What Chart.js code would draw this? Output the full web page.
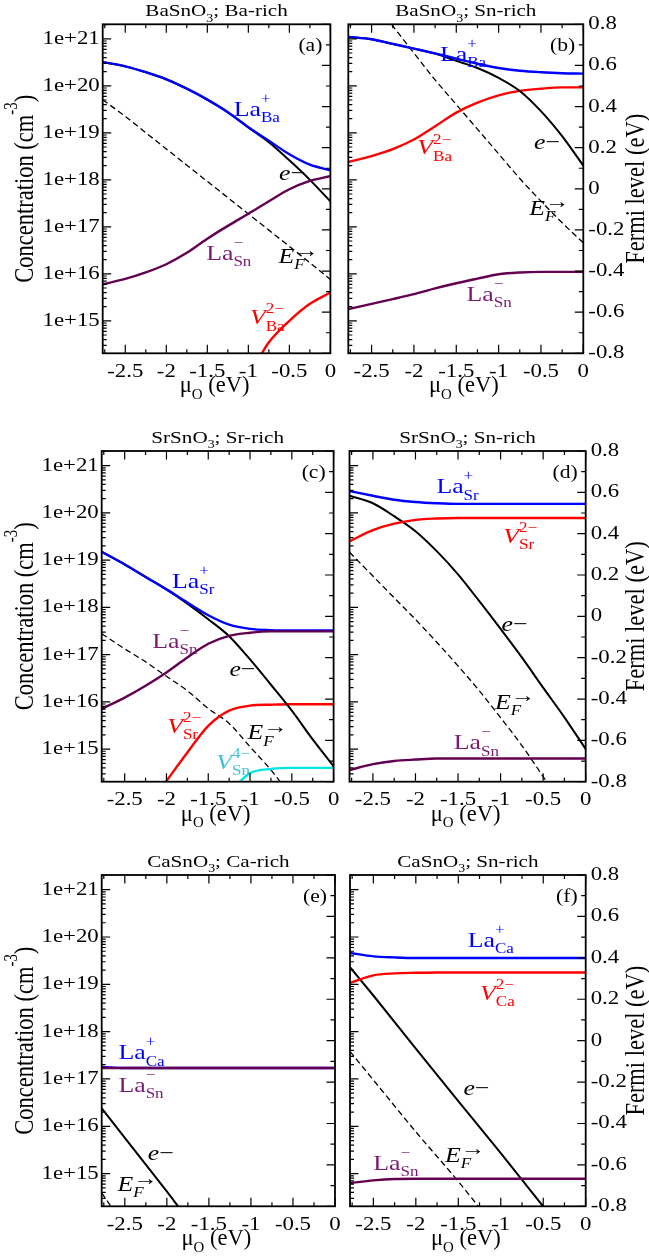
<!DOCTYPE html>
<html><head><meta charset="utf-8">
<script src="https://cdn.jsdelivr.net/npm/chart.js@4.4.1/dist/chart.umd.min.js"></script>
<style>
html,body{margin:0;padding:0;background:#fff;width:649px;height:1259px;overflow:hidden;position:relative}
canvas{position:absolute}
</style></head><body>
<script>
// ---------------- axis ranges & tick labels ----------------
const XMIN = -2.775, XMAX = 0;
const YMIN = 2.04e14, YMAX = 2.04e21;
const FMIN = -0.8, FMAX = 0.8;
const X_TICKS = [-2.5, -2, -1.5, -1, -0.5, 0];
const Y_TICKS = [1e15, 1e16, 1e17, 1e18, 1e19, 1e20, 1e21];
const F_TICKS = [-0.8, -0.6, -0.4, -0.2, 0, 0.2, 0.4, 0.6, 0.8];

// common oxygen chemical potential grid (eV)
const MU = [-2.775, -2.5, -2.25, -2.0, -1.75, -1.5, -1.25, -1.0, -0.75, -0.5, -0.25, 0];

// ---------------- (a) BaSnO3; Ba-rich ----------------
const a_LaBa = [3.2e20, 2.6e20, 1.95e20, 1.38e20, 8.7e19, 5.1e19, 2.75e19, 1.32e19, 6.8e18, 3.5e18, 2.1e18, 1.6e18];
const a_e    = [3.2e20, 2.6e20, 1.95e20, 1.38e20, 8.7e19, 5.1e19, 2.75e19, 1.3e19, 6.3e18, 2.6e18, 1.0e18, 3.5e17];
const a_LaSn = [6.0e15, 7.8e15, 1.07e16, 1.6e16, 2.8e16, 5.6e16, 1.05e17, 1.9e17, 3.5e17, 6.3e17, 9.5e17, 1.2e18];
const a_V_mu = [-0.84, -0.75, -0.5, -0.25, 0];
const a_V    = [2.0e14, 3.5e14, 1.0e15, 2.3e15, 4.0e15];
const a_EF   = [0.433, 0.352, 0.273, 0.194, 0.115, 0.036, -0.043, -0.122, -0.201, -0.28, -0.36, -0.441];

// ---------------- (b) BaSnO3; Sn-rich ----------------
const b_LaBa = [1.1e21, 9.8e20, 7.8e20, 6.2e20, 4.9e20, 3.8e20, 2.95e20, 2.4e20, 2.1e20, 1.95e20, 1.86e20, 1.82e20];
const b_e    = [1.1e21, 9.8e20, 7.8e20, 6.2e20, 4.85e20, 3.4e20, 2.4e20, 1.48e20, 7.8e19, 2.9e19, 8.5e18, 2.0e18];
const b_V    = [2.4e18, 3.2e18, 4.5e18, 7.2e18, 1.38e19, 2.7e19, 4.4e19, 6.3e19, 7.8e19, 8.7e19, 9.3e19, 9.3e19];
const b_LaSn = [1.78e15, 2.3e15, 2.9e15, 3.7e15, 4.9e15, 6.3e15, 7.9e15, 9.8e15, 1.07e16, 1.1e16, 1.1e16, 1.1e16];
const b_EF_mu = [-2.264, -2.0, -1.75, -1.5, -1.25, -1.0, -0.75, -0.5, -0.25, 0];
const b_EF    = [0.8, 0.66, 0.53, 0.41, 0.29, 0.17, 0.05, -0.06, -0.165, -0.263];

// ---------------- (c) SrSnO3; Sr-rich ----------------
const c_LaSr = [1.5e19, 8.1e18, 4.4e18, 2.4e18, 1.26e18, 6.8e17, 4.3e17, 3.5e17, 3.3e17, 3.25e17, 3.25e17, 3.25e17];
const c_e    = [1.5e19, 8.1e18, 4.4e18, 2.4e18, 1.2e18, 5.6e17, 2.45e17, 7.9e16, 2.3e16, 6.5e15, 1.6e15, 4.3e14];
const c_LaSn = [7.1e15, 1.23e16, 2.2e16, 4.2e16, 8.7e16, 1.7e17, 2.5e17, 2.9e17, 3.1e17, 3.1e17, 3.1e17, 3.1e17];
const c_V_mu = [-2.01, -1.75, -1.5, -1.25, -1.0, -0.75, -0.5, -0.25, 0];
const c_V    = [2.0e14, 8.5e14, 3.1e15, 6.5e15, 8.3e15, 8.7e15, 8.9e15, 8.9e15, 8.9e15];
const c_VSn_mu = [-1.13, -1.0, -0.75, -0.5, -0.25, 0];
const c_VSn    = [2.0e14, 3.1e14, 3.8e14, 4.0e14, 4.0e14, 4.0e14];
const c_EF_mu = [-2.775, -2.5, -2.25, -2.0, -1.75, -1.5, -1.25, -1.0, -0.75, -0.64];
const c_EF    = [-0.084, -0.157, -0.22, -0.29, -0.36, -0.446, -0.518, -0.631, -0.743, -0.8];

// ---------------- (d) SrSnO3; Sn-rich ----------------
const d_LaSr = [2.9e20, 2.3e20, 1.9e20, 1.7e20, 1.6e20, 1.55e20, 1.55e20, 1.55e20, 1.55e20, 1.55e20, 1.55e20, 1.55e20];
const d_V    = [2.5e19, 4.3e19, 5.9e19, 7.1e19, 7.6e19, 7.8e19, 7.8e19, 7.8e19, 7.8e19, 7.8e19, 7.8e19, 7.8e19];
const d_e    = [2.3e20, 1.6e20, 8.5e19, 4.1e19, 1.55e19, 5.0e18, 1.35e18, 3.5e17, 8.7e16, 2.0e16, 4.7e15, 1.0e15];
const d_LaSn = [3.6e14, 4.8e14, 5.6e14, 6.0e14, 6.3e14, 6.3e14, 6.3e14, 6.3e14, 6.3e14, 6.3e14, 6.3e14, 6.3e14];
const d_EF_mu = [-2.775, -2.5, -2.25, -2.0, -1.75, -1.5, -1.25, -1.0, -0.75, -0.46];
const d_EF    = [0.31, 0.195, 0.09, -0.015, -0.125, -0.24, -0.36, -0.49, -0.625, -0.8];

// ---------------- (e) CaSnO3; Ca-rich ----------------
const e_LaCa = [1.8e17, 1.7e17, 1.7e17, 1.7e17, 1.7e17, 1.7e17, 1.7e17, 1.7e17, 1.7e17, 1.7e17, 1.7e17, 1.7e17];
const e_LaSn = [1.7e17, 1.7e17, 1.7e17, 1.7e17, 1.7e17, 1.7e17, 1.7e17, 1.7e17, 1.7e17, 1.7e17, 1.7e17, 1.7e17];
const e_e_mu = [-2.775, -2.5, -2.25, -2.0, -1.863];
const e_e    = [2.4e16, 5.7e15, 1.55e15, 4.2e14, 2.0e14];
const e_EF_mu = [-2.775, -2.667];
const e_EF    = [-0.735, -0.8];

// ---------------- (f) CaSnO3; Sn-rich ----------------
const f_LaCa = [4.6e19, 3.9e19, 3.7e19, 3.6e19, 3.6e19, 3.6e19, 3.6e19, 3.6e19, 3.6e19, 3.6e19, 3.6e19, 3.6e19];
const f_V    = [1.07e19, 1.55e19, 1.7e19, 1.75e19, 1.78e19, 1.78e19, 1.78e19, 1.78e19, 1.78e19, 1.78e19, 1.78e19, 1.78e19];
const f_e_mu = [-2.775, -2.5, -2.0, -1.5, -1.0, -0.498];
const f_e    = [2.3e19, 5.8e18, 4.4e17, 3.4e16, 2.7e15, 2.0e14];
const f_LaSn = [6.3e14, 7.2e14, 7.7e14, 7.8e14, 7.8e14, 7.8e14, 7.8e14, 7.8e14, 7.8e14, 7.8e14, 7.8e14, 7.8e14];
const f_EF_mu = [-2.775, -2.5, -2.0, -1.5, -1.264];
const f_EF    = [-0.052, -0.19, -0.44, -0.68, -0.8];

// ---------------- styles ----------------
const FF = "'Liberation Serif','Times New Roman',Times,serif";
const SX = 1.2;           // horizontal glyph stretch seen in the reference typesetting
const BLUE = '#0000ff', RED = '#ff0000', PURPLE = '#640050', PURPLE_T = '#7a1a72',
      CYAN = '#00e6e6', CYAN_T = '#3ec3d6', BLACK = '#000000';
const LBL = 21.5, TICK = 19, TITLE = 17.6, XT = 22.5, AXT = 22.5, TAG = 18, SUBK = 0.66;

const ROWS = [
  {top: 24.3, bottom: 353.3, L: [102.7, 336.7], R: [348.3, 583.3]},
  {top: 451.0, bottom: 781.7, L: [101.7, 338.3], R: [349.5, 585.7]},
  {top: 875.0, bottom: 1206.3, L: [101.7, 339.0], R: [350.0, 585.7]}
];

const S = (xs, ys, color, extra) => Object.assign({xs, ys, color, width: 2.4, axis: 'y'}, extra || {});
const EL = {width: 2.0};
const DASH = {width: 1.3, dash: [6, 3.5], axis: 'y1'};

const La = (site, ch) => [{t: 'La'}, {sub: site, sup: ch}];
const Vd = (site, ch) => [{t: 'V', i: true}, {sub: site, sup: ch, lo: true}];
const EFL = [{t: 'E', i: true}, {sub: 'F', si: true, sup: '\u2192', big: true}];
const EM = [{t: 'e', i: true}, {t: '\u2212'}];

const PANELS = [
  {row: 0, col: 0, tag: '(a)', title: ['BaSnO', '3', '; Ba-rich'],
   series: [S(MU, a_LaSn, PURPLE), S(MU, a_LaBa, BLUE), S(MU, a_e, BLACK, EL), S(a_V_mu, a_V, RED), S(MU, a_EF, BLACK, DASH)],
   labels: [
     {x: -1.178, y: 2.3e19, c: BLUE, p: La('Ba', '+')},
     {x: -0.625, y: 1.0e18, c: BLACK, p: EM},
     {x: -1.514, y: 2.0e16, c: PURPLE_T, p: La('Sn', '\u2212')},
     {x: -0.632, y: 1.7e16, c: BLACK, p: EFL},
     {x: -0.98, y: 8.5e14, c: RED, p: Vd('Ba', '2\u2212')}
   ]},
  {row: 0, col: 1, tag: '(b)', title: ['BaSnO', '3', '; Sn-rich'],
   series: [S(MU, b_LaSn, PURPLE), S(MU, b_LaBa, BLUE), S(MU, b_e, BLACK, EL), S(MU, b_V, RED), S(b_EF_mu, b_EF, BLACK, DASH)],
   labels: [
     {x: -1.693, y: 3.4e20, c: BLUE, p: La('Ba', '+')},
     {x: -1.96, y: 3.5e18, c: RED, p: Vd('Ba', '2\u2212')},
     {x: -0.583, y: 4.5e18, c: BLACK, p: EM},
     {x: -0.638, y: 1.8e17, c: BLACK, p: EFL},
     {x: -1.378, y: 2.7e15, c: PURPLE_T, p: La('Sn', '\u2212')}
   ]},
  {row: 1, col: 0, tag: '(c)', title: ['SrSnO', '3', '; Sr-rich'],
   series: [S(MU, c_LaSn, PURPLE), S(MU, c_LaSr, BLUE), S(MU, c_e, BLACK, EL), S(c_V_mu, c_V, RED), S(c_VSn_mu, c_VSn, CYAN), S(c_EF_mu, c_EF, BLACK, DASH)],
   labels: [
     {x: -1.933, y: 2.6e18, c: BLUE, p: La('Sr', '+')},
     {x: -2.169, y: 1.4e17, c: PURPLE_T, p: La('Sn', '\u2212')},
     {x: -1.247, y: 3.5e16, c: BLACK, p: EM},
     {x: -1.992, y: 2.2e15, c: RED, p: Vd('Sr', '2\u2212')},
     {x: -1.031, y: 1.6e15, c: BLACK, p: EFL},
     {x: -1.404, y: 3.8e14, c: CYAN_T, p: Vd('Sn', '4\u2212')}
   ]},
  {row: 1, col: 1, tag: '(d)', title: ['SrSnO', '3', '; Sn-rich'],
   series: [S(MU, d_LaSn, PURPLE), S(MU, d_LaSr, BLUE), S(MU, d_V, RED), S(MU, d_e, BLACK, EL), S(d_EF_mu, d_EF, BLACK, DASH)],
   labels: [
     {x: -1.754, y: 2.6e20, c: BLUE, p: La('Sr', '+')},
     {x: -0.969, y: 2.3e19, c: RED, p: Vd('Sr', '2\u2212')},
     {x: -0.989, y: 3.2e17, c: BLACK, p: EM},
     {x: -1.067, y: 7.1e15, c: BLACK, p: EFL},
     {x: -1.55, y: 1.0e15, c: PURPLE_T, p: La('Sn', '\u2212')}
   ]},
  {row: 2, col: 0, tag: '(e)', title: ['CaSnO', '3', '; Ca-rich'],
   series: [S(MU, e_LaSn, PURPLE), S(MU, e_LaCa, BLUE), S(e_e_mu, e_e, BLACK, EL), S(e_EF_mu, e_EF, BLACK, DASH)],
   labels: [
     {x: -2.576, y: 2.6e17, c: BLUE, p: La('Ca', '+')},
     {x: -2.576, y: 5.4e16, c: PURPLE_T, p: La('Sn', '\u2212')},
     {x: -2.227, y: 1.95e15, c: BLACK, p: EM},
     {x: -2.588, y: 4.3e14, c: BLACK, p: EFL}
   ]},
  {row: 2, col: 1, tag: '(f)', title: ['CaSnO', '3', '; Sn-rich'],
   series: [S(MU, f_LaSn, PURPLE), S(MU, f_LaCa, BLUE), S(MU, f_V, RED), S(f_e_mu, f_e, BLACK, EL), S(f_EF_mu, f_EF, BLACK, DASH)],
   labels: [
     {x: -1.389, y: 6.2e19, c: BLUE, p: La('Ca', '+')},
     {x: -1.244, y: 4.7e18, c: RED, p: Vd('Ca', '2\u2212')},
     {x: -1.44, y: 4.6e16, c: BLACK, p: EM},
     {x: -1.656, y: 1.8e15, c: BLACK, p: EFL},
     {x: -2.5, y: 1.2e15, c: PURPLE_T, p: La('Sn', '\u2212')}
   ]}
];

// ---------------- text helpers (horizontally stretched glyphs) ----------------
function stretchCtx(c2d) {
  const orig = c2d.fillText;
  c2d.fillText = function (t, x, y) {
    this.save(); this.translate(x, y); this.scale(SX, 1);
    orig.call(this, t, 0, 0);
    this.restore();
  };
}
function segFont(p, size, which) {
  const s = +(size * SUBK).toFixed(1);
  if (which === 'sub') return (p.si ? 'italic ' : '') + s + 'px ' + FF;
  if (which === 'sup') return (p.big ? +(size * 0.95).toFixed(1) : s) + 'px ' + FF;
  return (p.i ? 'italic ' : '') + size + 'px ' + FF;
}
function richWidth(ctx, parts, size) {
  let w = 0;
  for (const p of parts) {
    if (typeof p === 'string' || p.t !== undefined) {
      const t = typeof p === 'string' ? p : p.t;
      ctx.font = segFont(p, size, 'base'); w += ctx.measureText(t).width;
    } else {
      let ww = 0;
      if (p.sub) { ctx.font = segFont(p, size, 'sub'); ww = ctx.measureText(p.sub).width; }
      if (p.sup) { ctx.font = segFont(p, size, 'sup'); ww = Math.max(ww, ctx.measureText(p.sup).width); }
      w += ww;
    }
  }
  return w * SX;
}
function rich(ctx, x, y, parts, size, color) {
  ctx.fillStyle = color; ctx.textAlign = 'left'; ctx.textBaseline = 'alphabetic';
  for (const p of parts) {
    if (typeof p === 'string' || p.t !== undefined) {
      const t = typeof p === 'string' ? p : p.t;
      ctx.font = segFont(p, size, 'base');
      ctx.fillText(t, x, y); x += ctx.measureText(t).width * SX;
    } else {
      let ww = 0;
      if (p.sub) { ctx.font = segFont(p, size, 'sub'); ctx.fillText(p.sub, x, y + size * 0.3); ww = ctx.measureText(p.sub).width; }
      if (p.sup) {
        ctx.font = segFont(p, size, 'sup');
        const up = p.big ? 0.3 : (p.lo ? 0.5 : 0.6);
        ctx.fillText(p.sup, x, y - size * up);
        ww = Math.max(ww, ctx.measureText(p.sup).width);
      }
      x += ww * SX;
    }
  }
}

// ---------------- decoration plugin (frame, inward ticks, texts) ----------------
function decoPlugin(P, isL) {
  return {
    id: 'deco' + P.tag.replace(/[()]/g, ''),
    afterDatasetsDraw(chart) {
      const {ctx, chartArea: a, scales} = chart;
      const xs = scales.x, ys = scales.y, fs = scales.y1;
      ctx.save();
      ctx.strokeStyle = '#000'; ctx.lineWidth = 1.2; ctx.lineCap = 'butt';
      ctx.beginPath();
      for (let i = 0; i <= 11; i++) {
        const v = -2.75 + 0.25 * i, px = xs.getPixelForValue(v), L = (i % 2 === 1) ? 8.5 : 4;
        ctx.moveTo(px, a.bottom); ctx.lineTo(px, a.bottom - L);
        ctx.moveTo(px, a.top); ctx.lineTo(px, a.top + L);
      }
      for (let d = 14; d <= 21; d++) for (let m = 1; m <= 9; m++) {
        const v = m * Math.pow(10, d);
        if (v < YMIN || v > YMAX) continue;
        const py = ys.getPixelForValue(v), L = m === 1 ? 8.5 : 4;
        ctx.moveTo(a.left, py); ctx.lineTo(a.left + L, py);
      }
      for (let k = -8; k <= 8; k++) {
        const py = fs.getPixelForValue(k / 10), L = (k % 2 === 0) ? 8.5 : 4.5;
        ctx.moveTo(a.right, py); ctx.lineTo(a.right - L, py);
      }
      ctx.stroke();
      ctx.lineWidth = 1.8;
      ctx.strokeRect(a.left, a.top, a.right - a.left, a.bottom - a.top);
      for (const l of P.labels) {
        rich(ctx, xs.getPixelForValue(l.x), ys.getPixelForValue(l.y), l.p, LBL, l.c);
      }
      ctx.font = TAG + 'px ' + FF; ctx.fillStyle = '#000'; ctx.textAlign = 'right'; ctx.textBaseline = 'alphabetic';
      ctx.fillText(P.tag, a.right - 8, a.top + 27);
      const tp = [P.title[0], {sub: P.title[1]}, P.title[2]];
      const tw = richWidth(ctx, tp, TITLE);
      rich(ctx, (a.left + a.right) / 2 - tw / 2, a.top - 8, tp, TITLE, '#000');
      // x axis title: drawn without the horizontal stretch
      const xp = ['\u03bc', {sub: 'O'}, ' (eV)'];
      ctx.save(); ctx.translate((a.left + a.right) / 2 - 2, a.bottom + 39); ctx.scale(1 / SX, 1);
      const xw = richWidth(ctx, xp, XT);
      rich(ctx, -xw / 2, 0, xp, XT, '#000'); ctx.restore();
      const cyc = (a.top + a.bottom) / 2;
      if (isL) {
        const yp = ['Concentration (cm', {sup: '-3'}, ')'];
        ctx.save(); ctx.translate(33, cyc); ctx.rotate(-Math.PI / 2); ctx.scale(1 / SX, SX);
        const yw = richWidth(ctx, yp, AXT);
        rich(ctx, -yw / 2, 0, yp, AXT, '#000'); ctx.restore();
      } else {
        const fp = ['Fermi level (eV)'];
        ctx.save(); ctx.translate(chart.width - 5, cyc); ctx.rotate(-Math.PI / 2); ctx.scale(1 / SX, SX);
        const fw = richWidth(ctx, fp, AXT);
        rich(ctx, -fw / 2, 0, fp, AXT, '#000'); ctx.restore();
      }
      ctx.restore();
    }
  };
}

// ---------------- build charts ----------------
const zeroPad = s => { s.paddingLeft = 0; s.paddingRight = 0; s.paddingTop = 0; s.paddingBottom = 0; };
const tickFont = {family: FF, size: TICK};

for (const P of PANELS) {
  const g = ROWS[P.row], isL = P.col === 0;
  const cx = isL ? 0 : 343, cw = isL ? 343 : 306;
  const cy = Math.floor(g.top) - 24, ch = Math.ceil(g.bottom - cy + 70);
  const [pl, pr] = isL ? g.L : g.R;
  const cv = document.createElement('canvas');
  cv.width = cw; cv.height = ch; cv.style.left = cx + 'px'; cv.style.top = cy + 'px';
  document.body.appendChild(cv);
  stretchCtx(cv.getContext('2d'));

  const datasets = P.series.map(s => ({
    data: s.xs.map((x, i) => ({x: x, y: s.ys[i]})),
    borderColor: s.color, borderWidth: s.width, borderDash: s.dash || [],
    pointRadius: 0, fill: false, cubicInterpolationMode: 'monotone',
    yAxisID: s.axis
  }));

  new Chart(cv, {
    type: 'line',
    data: {datasets},
    options: {
      responsive: false, animation: false, devicePixelRatio: 1,
      events: [],
      layout: {padding: {top: g.top - cy, left: 0, bottom: 0, right: isL ? (cx + cw - pr) : 0}},
      plugins: {legend: {display: false}, tooltip: {enabled: false}},
      scales: {
        x: {
          type: 'linear', min: XMIN, max: XMAX,
          grid: {display: false, drawTicks: false}, border: {display: false},
          ticks: {font: tickFont, color: '#000', padding: 7, autoSkip: false, maxRotation: 0,
                  callback: v => String(v)},
          afterBuildTicks: s => { s.ticks = X_TICKS.map(v => ({value: v})); },
          afterFit: s => { s.height = cy + ch - g.bottom; zeroPad(s); }
        },
        y: {
          type: 'logarithmic', position: 'left', min: YMIN, max: YMAX,
          grid: {display: false, drawTicks: false}, border: {display: false},
          ticks: {display: isL, font: tickFont, color: '#000', padding: 3, autoSkip: false,
                  callback: v => '1e+' + Math.round(Math.log10(v))},
          afterBuildTicks: s => { s.ticks = Y_TICKS.map(v => ({value: v})); },
          afterFit: s => { s.width = pl - cx; zeroPad(s); }
        },
        y1: {
          type: 'linear', position: 'right', display: !isL, min: FMIN, max: FMAX,
          grid: {display: false, drawTicks: false}, border: {display: false},
          ticks: {font: tickFont, color: '#000', padding: 5, autoSkip: false,
                  callback: v => (Math.abs(v) < 1e-9 ? '0' : v.toFixed(1))},
          afterBuildTicks: s => { s.ticks = F_TICKS.map(v => ({value: v})); },
          afterFit: s => { s.width = cx + cw - pr; zeroPad(s); }
        }
      }
    },
    plugins: [decoPlugin(P, isL)]
  });
}
</script>
</body></html>
